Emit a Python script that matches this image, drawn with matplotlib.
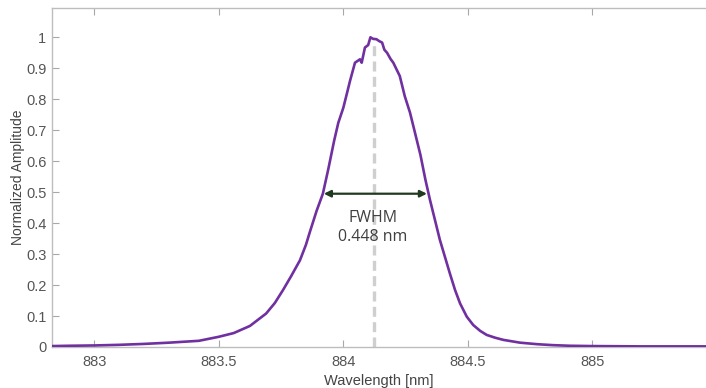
import matplotlib
matplotlib.use("Agg")
import matplotlib.pyplot as plt

# ---- data ----
wavelength = [882.83, 882.90, 883.00, 883.10, 883.20, 883.30, 883.42, 883.50, 883.56,
              883.625, 883.69, 883.725, 883.758, 883.79, 883.826, 883.85, 883.866,
              883.893, 883.918, 883.94, 883.963, 883.98, 884.00, 884.015, 884.027,
              884.047, 884.067, 884.074, 884.087, 884.10, 884.109, 884.12, 884.133,
              884.144, 884.156, 884.165, 884.176, 884.19, 884.201, 884.227, 884.247,
              884.268, 884.288, 884.31, 884.33, 884.348, 884.368, 884.388, 884.408,
              884.428, 884.449, 884.469, 884.496, 884.522, 884.55, 884.576, 884.61,
              884.643, 884.71, 884.78, 884.842, 884.91, 885.00, 885.20, 885.46]
amplitude = [0.003, 0.004, 0.005, 0.007, 0.010, 0.014, 0.020, 0.033, 0.045,
             0.068, 0.108, 0.142, 0.184, 0.228, 0.280, 0.330, 0.372,
             0.440, 0.495, 0.575, 0.665, 0.724, 0.772, 0.820, 0.859,
             0.918, 0.929, 0.918, 0.967, 0.975, 1.000, 0.995, 0.994,
             0.988, 0.983, 0.960, 0.950, 0.930, 0.918, 0.875, 0.810,
             0.757, 0.692, 0.620, 0.540, 0.476, 0.411, 0.346, 0.292,
             0.238, 0.184, 0.141, 0.098, 0.071, 0.052, 0.039, 0.030,
             0.023, 0.014, 0.009, 0.006, 0.004, 0.003, 0.002, 0.002]

peak_wl = 884.123
peak_top = 0.976
fwhm_left = 883.922
fwhm_right = 884.336
half_level = 0.495
fwhm_label = "FWHM\n0.448 nm"

x_ticks = [883, 883.5, 884, 884.5, 885]
x_ticklabels = ["883", "883.5", "884", "884.5", "885"]
y_ticks = [0, 0.1, 0.2, 0.3, 0.4, 0.5, 0.6, 0.7, 0.8, 0.9, 1]
y_ticklabels = ["0", "0.1", "0.2", "0.3", "0.4", "0.5", "0.6", "0.7", "0.8", "0.9", "1"]

# ---- figure ----
plt.rcParams['font.family'] = ['Liberation Sans', 'DejaVu Sans']
fig = plt.figure(figsize=(7.06, 3.88), dpi=100)
ax = fig.add_axes([52/706, 41/388, 1 - 52/706, 339/388])

ax.plot([peak_wl, peak_wl], [0, peak_top], color='#cfcfcf', lw=2.4,
        linestyle=(0, (3, 1.6)), zorder=1)
ax.plot(wavelength, amplitude, color='#7030A0', lw=1.9, zorder=3)

ax.annotate('', xy=(fwhm_left, half_level), xytext=(fwhm_right, half_level),
            arrowprops=dict(arrowstyle='<|-|>', color='#1f3a1f', lw=1.6,
                            mutation_scale=10, shrinkA=0, shrinkB=0), zorder=4)
ax.text(peak_wl - 0.005, 0.386, fwhm_label, ha='center', va='center',
        fontsize=11.5, color='#404040', family=['Open Sans', 'DejaVu Sans'],
        linespacing=1.3, zorder=5)

ax.set_xlim(882.83, 885.457)
ax.set_ylim(0, 1.0947)
ax.set_xticks(x_ticks)
ax.set_xticklabels(x_ticklabels)
ax.set_yticks(y_ticks)
ax.set_yticklabels(y_ticklabels)

for s in ['left', 'top', 'bottom']:
    ax.spines[s].set_color('#bdbdbd')
    ax.spines[s].set_linewidth(1.0)
ax.spines['right'].set_visible(False)

ax.tick_params(axis='both', direction='in', length=5, width=0.8, color='#a8a8a8',
               labelsize=10.5, labelcolor='#555555', top=True, right=False)
ax.tick_params(axis='x', pad=6)
ax.tick_params(axis='y', pad=4)

ax.set_xlabel('Wavelength [nm]', fontsize=10.5, color='#444444', labelpad=3)
ax.set_ylabel('Normalized Amplitude', fontsize=10, color='#444444', labelpad=1)

fig.savefig('out.png', dpi=100)
